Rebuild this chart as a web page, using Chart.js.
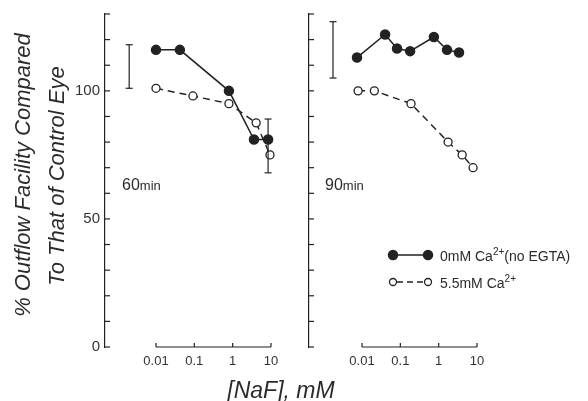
<!DOCTYPE html>
<html>
<head>
<meta charset="utf-8">
<script src="https://cdn.jsdelivr.net/npm/chart.js@4.4.0/dist/chart.umd.min.js"></script>
<style>
  body { margin: 0; background: #fff; width: 588px; height: 401px; overflow: hidden; position: relative;
         font-family: "Liberation Sans", Arial, sans-serif; color: #2b2b2b; }
  .box { position: absolute; top: 0; }
  .t { position: absolute; white-space: nowrap; }
  .ytitle { font-style: italic; font-size: 22px; transform: translate(-50%, -50%) rotate(-90deg); }
  .xtitle { font-style: italic; font-size: 23px; transform: translate(-50%, -50%); }
  .tag { font-size: 16px; transform: translateY(-50%); }
  .tag small { font-size: 13px; }
  .leg { font-size: 14px; transform: translateY(-50%); }
  .leg sup { font-size: 10px; }
</style>
</head>
<body>
<div class="box" style="left:0"><canvas id="c60" width="300" height="401"></canvas></div>
<div class="box" style="left:300px"><canvas id="c90" width="288" height="401"></canvas></div>

<div class="t ytitle" style="left:23px; top:175px">% Outflow Facility Compared</div>
<div class="t ytitle" style="left:57px; top:176px">To That of Control Eye</div>
<div class="t xtitle" style="left:281px; top:390px">[NaF], mM</div>
<div class="t tag" style="left:122px; top:185px">60<small>min</small></div>
<div class="t tag" style="left:325px; top:185px">90<small>min</small></div>
<div class="t leg" style="left:440px; top:255px">0mM Ca<sup>2+</sup>(no EGTA)</div>
<div class="t leg" style="left:440px; top:282px">5.5mM Ca<sup>2+</sup></div>

<script>
// axis ticks
const xTicks = [0.01, 0.1, 1, 10];
const xTickLabels = ['0.01', '0.1', '1', '10'];
const yLabelTicks = [0, 50, 100];

// 60 min panel
const naf60Free = [0.01, 0.042, 0.8, 3.6, 8.4];
const fac60Free = [116, 116, 100, 81, 81];
const naf60Ca = [0.01, 0.092, 0.8, 4.1, 9.4];
const fac60Ca = [101, 98, 95, 87.5, 75];
const err60X = [0.002, 8.4];
const err60Lo = [101, 68];
const err60Hi = [118, 89];

// 90 min panel
const naf90Free = [0.0074, 0.04, 0.082, 0.18, 0.75, 1.65, 3.4];
const fac90Free = [113, 122, 116.5, 115.5, 121, 116, 115];
const naf90Ca = [0.0079, 0.021, 0.19, 1.76, 4.1, 7.9];
const fac90Ca = [100, 100, 95, 80, 75, 70];
const err90X = [0.00175];
const err90Lo = [105];
const err90Hi = [127];

const ink = '#222';
const family = '"Liberation Sans", Arial, sans-serif';

function pts(xs, ys) {
  return xs.map((x, i) => ({ x: x, y: ys[i] }));
}

const drawAxes = {
  id: 'drawAxes',
  afterDraw(chart, args, opts) {
    const { ctx, chartArea, scales: { x, y } } = chart;
    ctx.save();
    ctx.strokeStyle = ink;
    ctx.lineWidth = 1.2;
    const seg = (x1, y1, x2, y2) => { ctx.beginPath(); ctx.moveTo(x1, y1); ctx.lineTo(x2, y2); ctx.stroke(); };

    // y ticks point into the plot
    y.ticks.forEach(t => {
      const py = y.getPixelForValue(t.value);
      seg(chartArea.left, py, chartArea.left + 5, py);
    });

    // x axis only spans the labelled decades
    const base = chartArea.bottom + opts.gap;
    seg(x.getPixelForValue(xTicks[0]), base, x.getPixelForValue(xTicks[xTicks.length - 1]), base);
    xTicks.forEach(v => {
      const px = x.getPixelForValue(v);
      seg(px, base, px, base - 4);
    });

    // error bars
    opts.errX.forEach((v, i) => {
      const px = x.getPixelForValue(v);
      const lo = y.getPixelForValue(opts.errLo[i]);
      const hi = y.getPixelForValue(opts.errHi[i]);
      seg(px, lo, px, hi);
      seg(px - 3.5, lo, px + 3.5, lo);
      seg(px - 3.5, hi, px + 3.5, hi);
    });

    // legend samples
    if (opts.legend) {
      const circle = (cx, cy, r, filled) => {
        ctx.beginPath();
        ctx.arc(cx, cy, r, 0, Math.PI * 2);
        ctx.fillStyle = filled ? ink : '#fff';
        ctx.fill();
        ctx.stroke();
      };
      ctx.lineWidth = 1.5;
      seg(93, 255, 128, 255);
      circle(93, 255, 4.5, true);
      circle(128, 255, 4.5, true);
      ctx.setLineDash([6, 4]);
      seg(97, 282, 124, 282);
      ctx.setLineDash([]);
      ctx.lineWidth = 1.3;
      circle(93, 282, 3.5, false);
      circle(128, 282, 3.5, false);
    }
    ctx.restore();
  }
};

function panel(id, free, ca, xmin, xmax, yWidth, showY, extra) {
  return new Chart(document.getElementById(id), {
    type: 'line',
    data: {
      datasets: [
        {
          label: '0mM Ca2+ (no EGTA)',
          data: free,
          borderColor: ink,
          borderWidth: 1.5,
          pointRadius: 4.5,
          pointBackgroundColor: ink,
          pointBorderColor: ink,
          tension: 0,
          clip: false
        },
        {
          label: '5.5mM Ca2+',
          data: ca,
          borderColor: ink,
          borderWidth: 1.5,
          borderDash: [7, 5],
          pointRadius: 4,
          pointBorderWidth: 1.3,
          pointBackgroundColor: '#fff',
          pointBorderColor: ink,
          tension: 0,
          clip: false
        }
      ]
    },
    options: {
      responsive: false,
      animation: false,
      layout: { padding: { top: 10, right: 10, left: 0, bottom: 0 } },
      plugins: {
        legend: { display: false },
        tooltip: { enabled: false },
        drawAxes: extra
      },
      scales: {
        x: {
          type: 'logarithmic',
          min: xmin,
          max: xmax,
          bounds: 'data',
          afterBuildTicks: s => { s.ticks = xTicks.map(v => ({ value: v })); },
          afterFit: s => { s.height = 54; },
          grid: { display: false, drawTicks: false },
          border: { display: false },
          ticks: {
            autoSkip: false, maxRotation: 0, padding: 7, color: '#333',
            font: { size: 13, family: family },
            callback: (v, i) => xTickLabels[i]
          }
        },
        y: {
          min: 0,
          max: 130,
          afterFit: s => { s.width = yWidth; },
          grid: { display: false, drawTicks: false },
          border: { display: true, color: ink, width: 1.2 },
          ticks: {
            stepSize: 10, autoSkip: false, padding: 5, color: '#333',
            font: { size: 15, family: family },
            callback: v => (showY && yLabelTicks.includes(v)) ? String(v) : ''
          }
        }
      }
    },
    plugins: [drawAxes]
  });
}

panel('c60', pts(naf60Free, fac60Free), pts(naf60Ca, fac60Ca),
  Math.pow(10, -3.33), Math.pow(10, 1.496), 105, true,
  { gap: 0, errX: err60X, errLo: err60Lo, errHi: err60Hi, legend: false });

panel('c90', pts(naf90Free, fac90Free), pts(naf90Ca, fac90Ca),
  Math.pow(10, -3.383), Math.pow(10, 3.635), 9, false,
  { gap: 0, errX: err90X, errLo: err90Lo, errHi: err90Hi, legend: true });
</script>
</body>
</html>
